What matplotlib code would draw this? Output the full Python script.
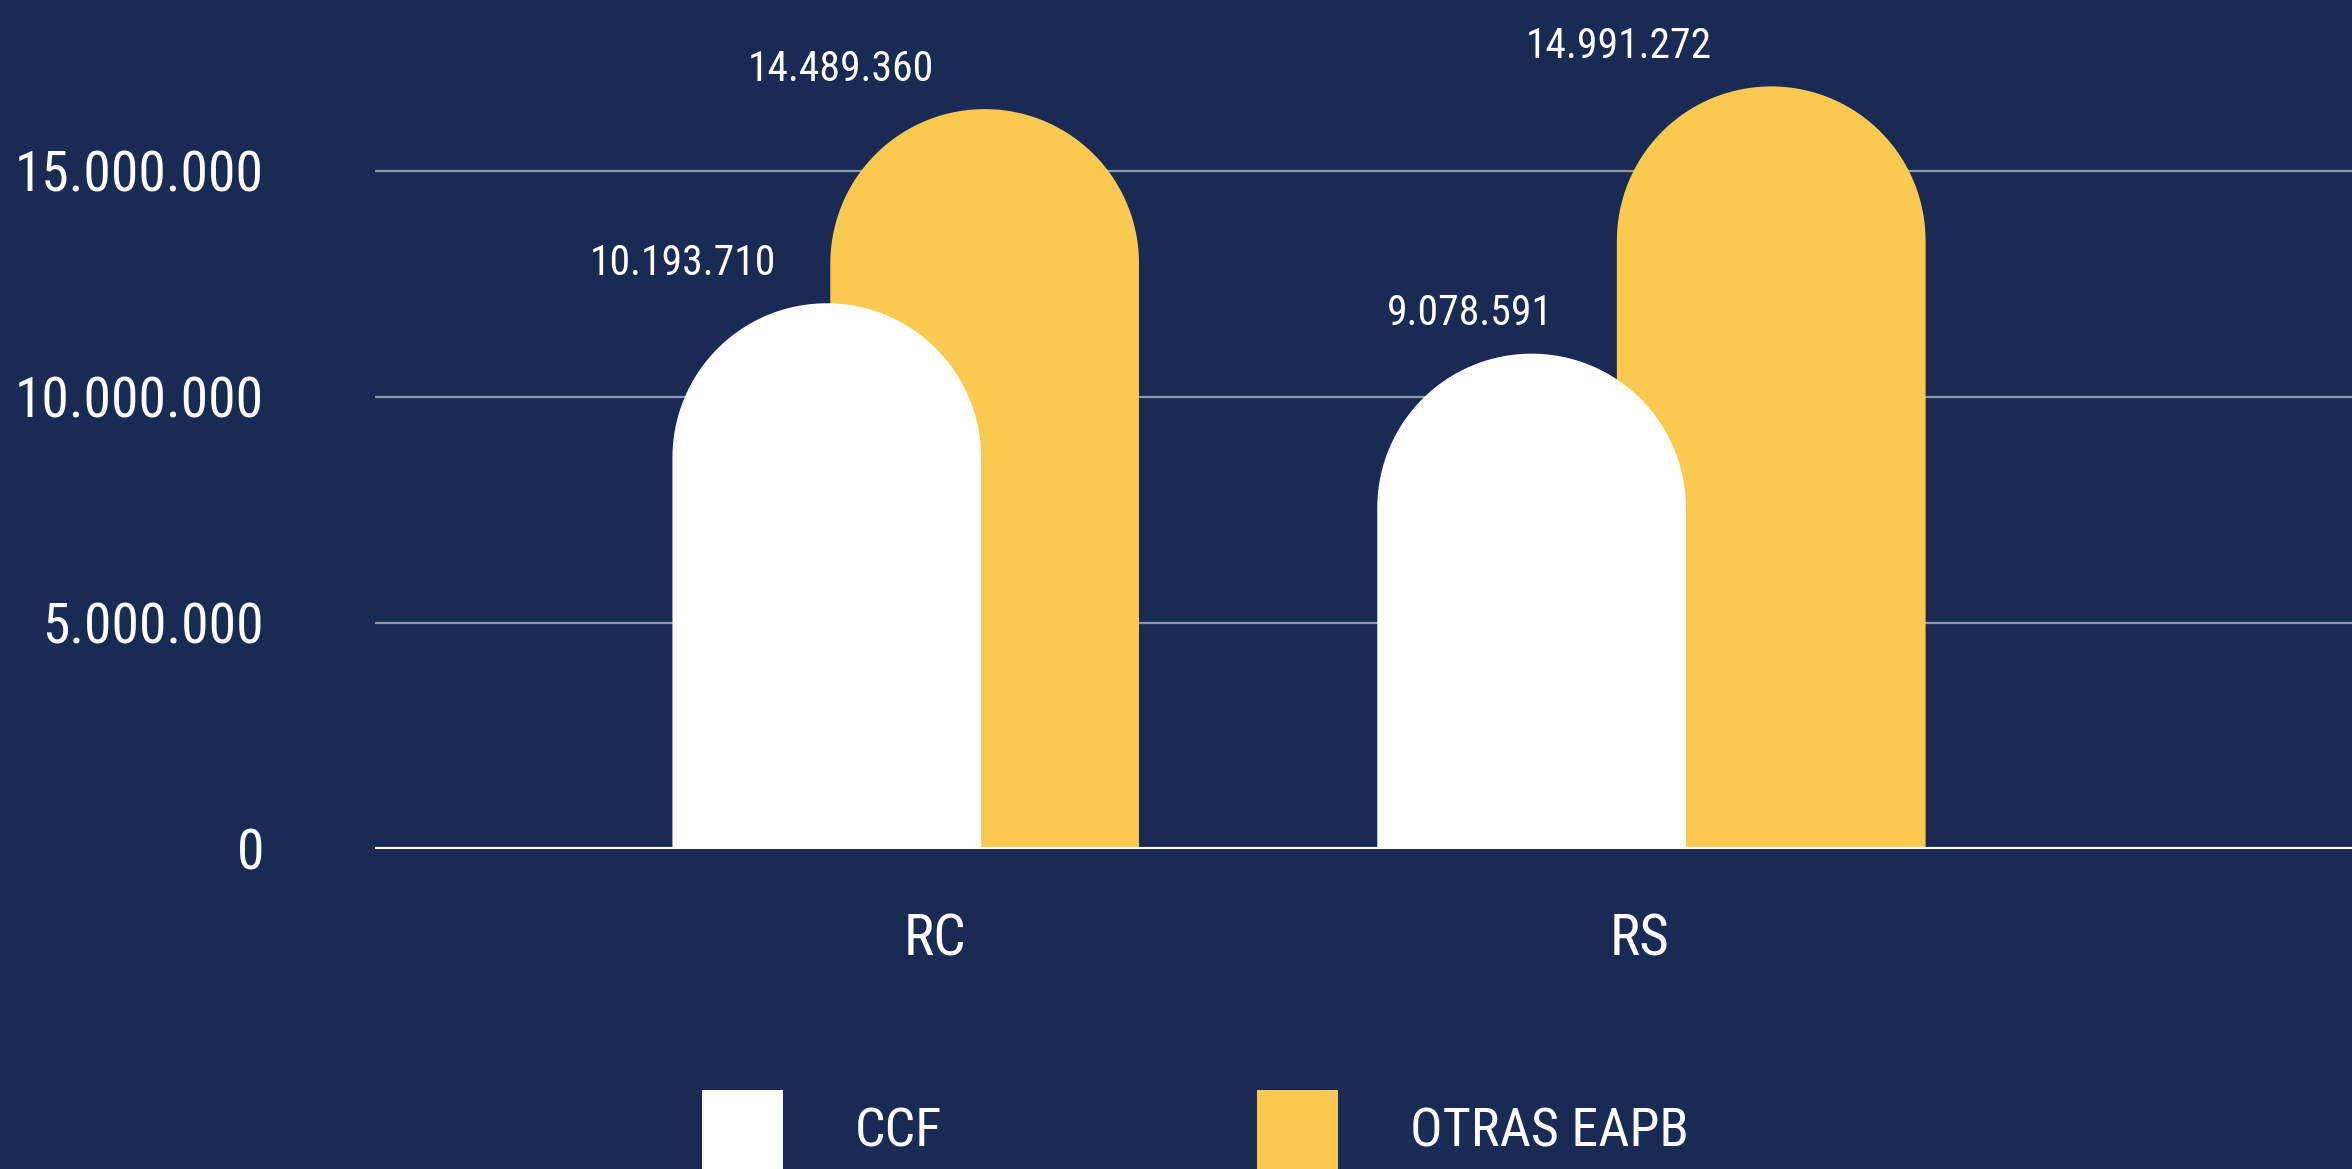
import matplotlib
matplotlib.use("Agg")
import matplotlib.pyplot as plt
from matplotlib import font_manager
from matplotlib.patches import Polygon, Rectangle
import numpy as np

# data
categories = ["RC", "RS"]
series_names = ["CCF", "OTRAS EAPB"]
ccf = [10193710, 9078591]
otras = [14489360, 14991272]
yticks = [0, 5000000, 10000000, 15000000]

# layout / style
bg = "#192B54"
colors = ["#FFFFFF", "#F9C950"]
shift = [[-0.153, -0.153], [0.071, 0.187]]        # bar centre offsets from category
label_dx = [[-144, -62], [-144, -152]]            # value label offsets, pixels
bar_w = 0.438

# narrowest font that is around
fonts = font_manager.fontManager.ttflist
names = {f.name for f in fonts}
stretch = "normal"
if "Roboto Condensed" in names:
    fam = "Roboto Condensed"
elif "Liberation Sans Narrow" in names:
    fam = "Liberation Sans Narrow"
elif any(f.name == "DejaVu Sans" and f.stretch == "condensed" for f in fonts):
    fam, stretch = "DejaVu Sans", "condensed"
elif "Roboto" in names:
    fam = "Roboto"
else:
    fam = "DejaVu Sans"
plt.rcParams["font.family"] = [fam, "DejaVu Sans"]
plt.rcParams["font.stretch"] = stretch

W, H = 2352, 1169
fig = plt.figure(figsize=(W / 100, H / 100), dpi=100, facecolor=bg)
ax = fig.add_axes([375 / W, 320 / H, 1977 / W, 849 / H])
ax.set_facecolor(bg)
ax.set_xlim(-0.794, 2.011)
ax.set_ylim(0, 849 / 45.2 * 1e6)

# pixel -> data conversion for round caps
px_x = ax.bbox.width / (ax.get_xlim()[1] - ax.get_xlim()[0])
px_y = ax.bbox.height / (ax.get_ylim()[1] - ax.get_ylim()[0])
r_px = bar_w / 2 * px_x
r_y = r_px / px_y
top_off = 85 / px_y

for k in yticks[1:]:
    ax.axhline(k, color="#8D97AE", lw=1.6, zorder=1)
ax.axhline(0, color="white", lw=3, zorder=4)

def rounded_bar(xc, v, color):
    top = v + top_off
    flat = top - r_y
    hw = bar_w / 2
    t = np.linspace(0, np.pi, 80)
    arc = np.column_stack([xc + hw * np.cos(t), flat + r_y * np.sin(t)])
    pts = np.vstack([[xc + hw, 0], arc, [xc - hw, 0]])
    ax.add_patch(Polygon(pts, closed=True, facecolor=color, edgecolor="none", zorder=3))

# yellow behind, white in front
for s, vals in [(1, otras), (0, ccf)]:
    for i, v in enumerate(vals):
        xc = i + shift[s][i]
        rounded_bar(xc, v, colors[s])
        ax.annotate(f"{v:,}".replace(",", "."), xy=(xc, v), xytext=(label_dx[s][i], 125),
                    textcoords="offset pixels", ha="center", va="center",
                    color="white", fontsize=30, zorder=5)

ax.set_yticks(yticks)
ax.set_yticklabels([f"{t:,}".replace(",", ".") for t in yticks], fontsize=40, color="white")
ax.set_xticks(range(len(categories)))
ax.set_xticklabels(categories, fontsize=41, color="white")
ax.tick_params(axis="y", length=0, pad=80)
ax.tick_params(axis="x", length=0, pad=46)
for sp in ax.spines.values():
    sp.set_visible(False)

# legend
leg_x = [702 / W, 1257 / W]
txt_x = [855 / W, 1410 / W]
for s in range(2):
    fig.add_artist(Rectangle((leg_x[s], -2 / H), 81 / W, 81 / H, transform=fig.transFigure,
                             facecolor=colors[s], edgecolor="none"))
    fig.text(txt_x[s], (H - 1132) / H, series_names[s], color="white", fontsize=39,
             ha="left", va="center")

fig.savefig("out.png", dpi=100, facecolor=bg)
